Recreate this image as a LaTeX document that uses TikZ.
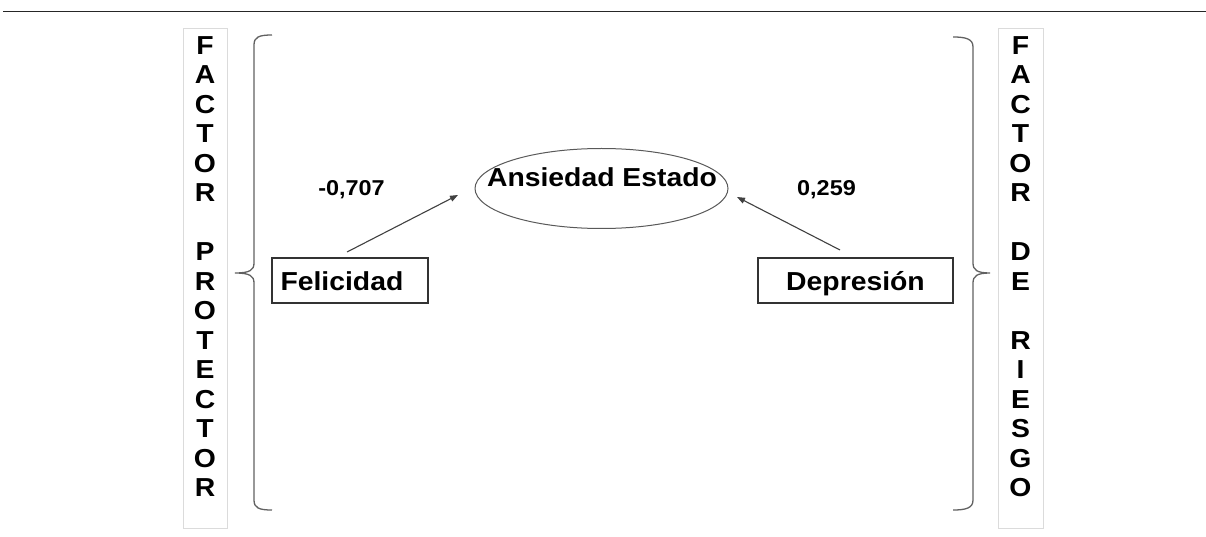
\documentclass[tikz,border=0pt]{standalone}
\usepackage{fontspec}
\newfontfamily\arialx[FakeStretch=1.09]{Liberation Sans}
\usetikzlibrary{shapes.geometric,arrows.meta}
\tikzset{
  lab/.style={font=\arialx\bfseries\fontsize{26}{29.5}\selectfont, text=black},
  num/.style={font=\arialx\bfseries\fontsize{21.5}{24}\selectfont, text=black, inner sep=0},
  colbox/.style={draw=black!14, line width=0.8pt, minimum width=44pt, minimum height=500pt, inner sep=0},
  coltext/.style={lab, align=center, inner sep=0},
  varbox/.style={draw=black!80, line width=1.1pt, minimum height=45pt, inner ysep=0, lab, text height=21pt, text depth=2pt},
  bracepath/.style={draw=black!62, line width=1.3pt},
  effect/.style={draw=black!75, line width=1.1pt, -{Triangle[length=8pt,width=6pt]}},
  topline/.style={draw=black!85, line width=1.8pt}
}
\begin{document}
\begin{tikzpicture}[x=1pt,y=1pt]
\useasboundingbox (0,0) rectangle (1206,-537);
% top rule
\coordinate (r1) at (3,-11.5);
\coordinate (r2) at (1206,-11.5);
\draw[topline] (r1) -- (r2);
% side columns
\node[colbox] (lbox) at (205,-278) {};
\node[colbox, minimum width=45pt] (rbox) at (1020.5,-278) {};
\node[coltext] (ltext) at (205,-266.5) {F\\A\\C\\T\\O\\R\\\mbox{}\\P\\R\\O\\T\\E\\C\\T\\O\\R};
\node[coltext] (rtext) at (1020.5,-266.5) {F\\A\\C\\T\\O\\R\\\mbox{}\\D\\E\\\mbox{}\\R\\I\\E\\S\\G\\O};
% braces
\draw[bracepath] (272,-35) .. controls (259,-35) and (254,-37) .. (254,-45)
  -- (254,-263) .. controls (254,-270) and (250,-273) .. (235,-273)
  .. controls (250,-273) and (254,-276) .. (254,-283)
  -- (254,-500) .. controls (254,-508) and (259,-510) .. (272,-510);
\draw[bracepath] (953,-37) .. controls (966,-37) and (973,-39) .. (973,-47)
  -- (973,-263) .. controls (973,-270) and (977,-273) .. (990,-273)
  .. controls (977,-273) and (973,-276) .. (973,-283)
  -- (973,-500) .. controls (973,-508) and (966,-510) .. (953,-510);
% central construct
\node[ellipse, draw=black!65, line width=1pt, minimum width=253pt, minimum height=80pt, inner sep=0] (ae) at (601.5,-188.5) {};
\node[lab, inner sep=0, text height=21pt, text depth=2pt] (aetext) at (602,-177.5) {Ansiedad Estado};
% predictors
\node[varbox, minimum width=156pt, text width=139pt, align=left, inner xsep=8.5pt] (fel) at (350,-280.5) {Felicidad};
\node[varbox, minimum width=195pt] (dep) at (855.5,-280.5) {Depresión};
% paths
\coordinate (f1) at (347,-252);
\coordinate (f2) at (458,-195);
\coordinate (d1) at (840,-250);
\coordinate (d2) at (737,-197);
\draw[effect] (f1) -- (f2);
\draw[effect] (d1) -- (d2);
% coefficients
\node[num] (cf) at (351.5,-190) {-0,707};
\node[num] (cd) at (826.5,-190) {0,259};
\end{tikzpicture}
\end{document}
